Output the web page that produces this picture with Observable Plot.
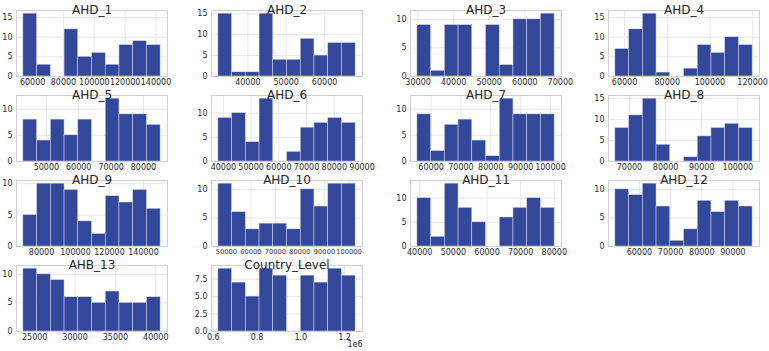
<!DOCTYPE html>
<html>
<head>
<meta charset="utf-8">
<script src="https://cdn.jsdelivr.net/npm/d3@7"></script>
<script src="https://cdn.jsdelivr.net/npm/@observablehq/plot@0.6"></script>
<style>
  html, body { margin: 0; padding: 0; background: #fff; }
  #grid { position: relative; width: 769px; height: 351px; overflow: hidden; }
  #grid svg { position: absolute; overflow: visible; }
</style>
</head>
<body>
<div id="grid"></div>
<script>
// Panel titles, in grid order (4 per row)
const panelTitles = ["AHD_1", "AHD_2", "AHD_3", "AHD_4", "AHD_5", "AHD_6", "AHD_7",
  "AHD_8", "AHD_9", "AHD_10", "AHD_11", "AHD_12", "AHB_13", "Country_Level"];

// Counts in each of the 10 equal-width bins
const countsAHD1 = [16, 3, 0, 12, 5, 6, 3, 8, 9, 8];
const countsAHD2 = [15, 1, 1, 15, 4, 4, 9, 5, 8, 8];
const countsAHD3 = [9, 1, 9, 9, 0, 9, 2, 10, 10, 11];
const countsAHD4 = [7, 12, 16, 1, 0, 2, 8, 6, 10, 8];
const countsAHD5 = [8, 4, 8, 5, 8, 0, 12, 9, 9, 7];
const countsAHD6 = [9, 10, 4, 13, 0, 2, 7, 8, 9, 8];
const countsAHD7 = [9, 2, 7, 8, 4, 1, 12, 9, 9, 9];
const countsAHD8 = [8, 11, 15, 4, 0, 1, 6, 8, 9, 8];
const countsAHD9 = [5, 10, 10, 9, 4, 2, 8, 7, 9, 6];
const countsAHD10 = [11, 6, 3, 4, 4, 3, 10, 7, 11, 11];
const countsAHD11 = [10, 2, 13, 8, 5, 0, 6, 8, 10, 8];
const countsAHD12 = [10, 9, 11, 7, 1, 3, 8, 6, 8, 7];
const countsAHB13 = [11, 10, 9, 6, 6, 5, 7, 5, 5, 6];
const countsCountry = [9, 7, 5, 9, 8, 0, 8, 7, 9, 8];

// Lowest and highest bin edge of each histogram
const binLow = [54000, 32300, 29800, 55700, 42900, 38200, 55400, 66100, 69300, 46700, 39300, 52300, 23600, 623000];
const binHigh = [143000, 68100, 68400, 120000, 85300, 87700, 101400, 104100, 150100, 102700, 80100, 96300, 40600, 1251000];

// Tick labels on each x axis
const xTickValues = [
  [60000, 80000, 100000, 120000, 140000],
  [40000, 50000, 60000],
  [30000, 40000, 50000, 60000, 70000],
  [60000, 80000, 100000, 120000],
  [50000, 60000, 70000, 80000],
  [40000, 50000, 60000, 70000, 80000, 90000],
  [60000, 70000, 80000, 90000, 100000],
  [70000, 80000, 90000, 100000],
  [80000, 100000, 120000, 140000],
  [50000, 60000, 70000, 80000, 90000, 100000],
  [40000, 50000, 60000, 70000, 80000],
  [60000, 70000, 80000, 90000],
  [25000, 30000, 35000, 40000],
  [600000, 800000, 1000000, 1200000]
];
// Tick labels on each y axis
const yTickValues = [
  [0, 5, 10, 15], [0, 5, 10, 15], [0, 5, 10], [0, 5, 10, 15],
  [0, 5, 10], [0, 5, 10], [0, 5, 10], [0, 5, 10, 15],
  [0, 5, 10], [0, 5, 10], [0, 5, 10], [0, 5, 10],
  [0, 5, 10], [0, 2.5, 5, 7.5]
];

const allCounts = [countsAHD1, countsAHD2, countsAHD3, countsAHD4, countsAHD5, countsAHD6,
  countsAHD7, countsAHD8, countsAHD9, countsAHD10, countsAHD11, countsAHD12, countsAHB13, countsCountry];

// Subplot grid geometry
const colLeft = [16, 211, 410, 608];
const rowTop = [10, 95, 180, 265];
const frameW = 151, frameH = 66;
const mL = 34, mR = 14, mT = 14, mB = 22;

const barFill = "#34489b";
const font = "DejaVu Sans, sans-serif";
const grid = document.getElementById("grid");

panelTitles.forEach((title, i) => {
  const counts = allCounts[i];
  const lo = binLow[i], hi = binHigh[i];
  const step = (hi - lo) / counts.length;
  const bins = counts
    .map((n, k) => ({x1: lo + k * step, x2: lo + (k + 1) * step, n}))
    .filter(d => d.n > 0);
  const pad = 0.05 * (hi - lo);
  const ymax = d3.max(counts) * 1.05;
  const isCountry = title === "Country_Level";
  const xFmt = isCountry ? (d => (d / 1e6).toFixed(1)) : (d => String(d));
  const yFmt = isCountry ? d3.format(".1f") : (d => String(d));
  // six-digit labels sit tightly together on the AHD_10 axis
  const xFont = xTickValues[i].length >= 6 && d3.max(xTickValues[i]) >= 100000 ? 6.7 : 8;

  const marks = [
    Plot.gridX(xTickValues[i], {stroke: "#e2e2e2", strokeOpacity: 1, strokeWidth: 0.8}),
    Plot.gridY(yTickValues[i], {stroke: "#e2e2e2", strokeOpacity: 1, strokeWidth: 0.8}),
    Plot.rectY(bins, {x1: "x1", x2: "x2", y: "n", fill: barFill, stroke: "#d8dcef", strokeWidth: 0.5}),
    Plot.frame({stroke: "#cccccc", strokeWidth: 0.9}),
    Plot.axisX(xTickValues[i], {tickSize: 0, tickPadding: 3, tickFormat: xFmt, fontSize: xFont, label: null}),
    Plot.axisY(yTickValues[i], {tickSize: 0, tickPadding: 4, tickFormat: yFmt, fontSize: 8, label: null}),
    Plot.text([title], {frameAnchor: "top", dy: -5, fontSize: 12, fill: "#262626", fontFamily: font})
  ];
  if (isCountry) {
    marks.push(Plot.text(["1e6"], {frameAnchor: "bottom-right", dy: 15, textAnchor: "end", fontSize: 8, fill: "#262626"}));
  }

  const chart = Plot.plot({
    width: frameW + mL + mR,
    height: frameH + mT + mB,
    marginLeft: mL, marginRight: mR, marginTop: mT, marginBottom: mB,
    style: {fontFamily: font, fontSize: "8px", color: "#2a2a2a", background: "transparent"},
    x: {domain: [lo - pad, hi + pad]},
    y: {domain: [0, ymax]},
    marks
  });
  const col = i % 4, row = Math.floor(i / 4);
  chart.style.left = (colLeft[col] - mL) + "px";
  chart.style.top = (rowTop[row] - mT) + "px";
  grid.appendChild(chart);
});
</script>
</body>
</html>
